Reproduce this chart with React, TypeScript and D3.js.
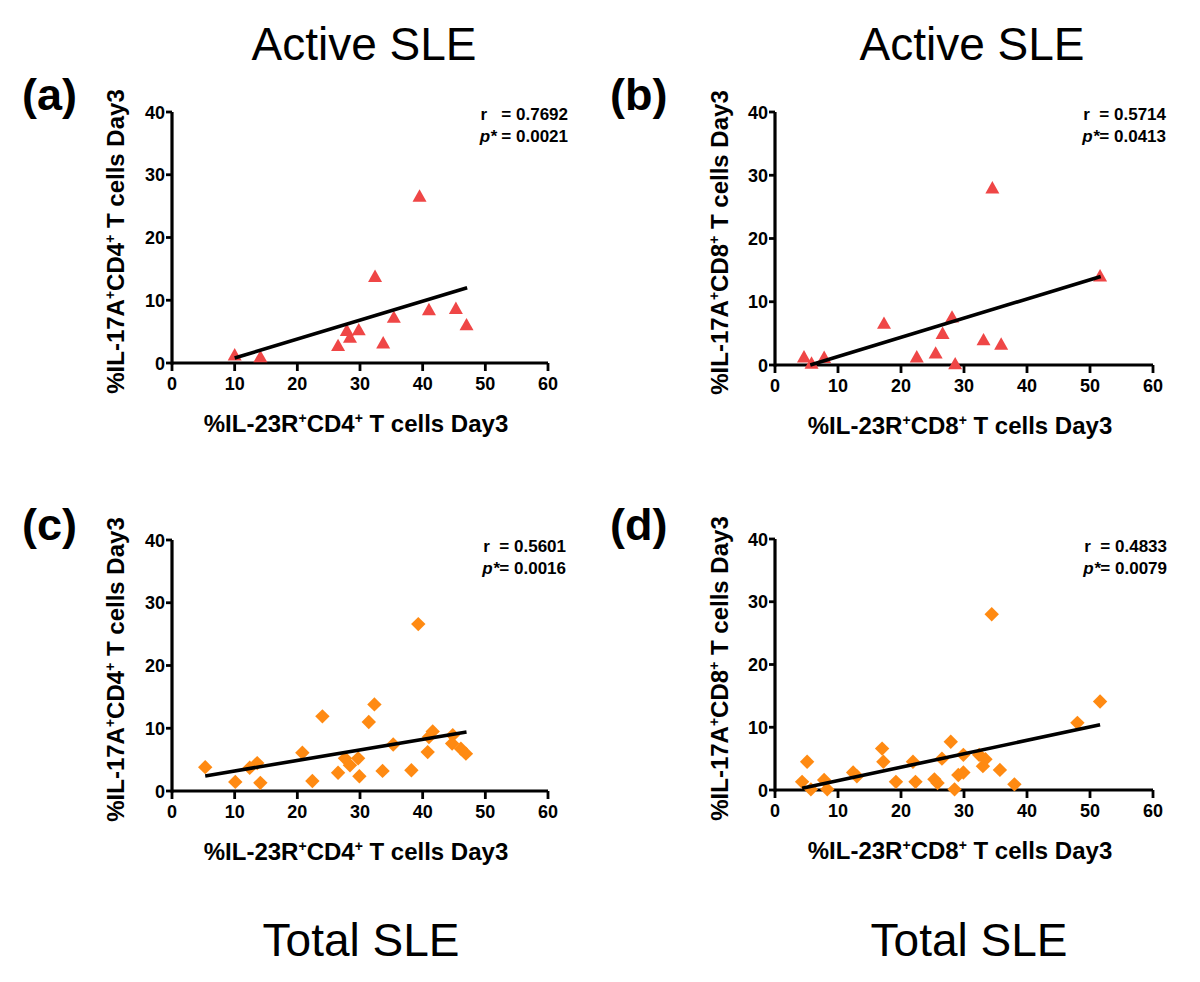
import React from "react";
import * as d3 from "d3";

// ---------- data ----------
const xTicks = [0, 10, 20, 30, 40, 50, 60];
const yTicks = [0, 10, 20, 30, 40];

// (a) Active SLE, CD4
const aX = [10.0, 14.1, 26.5, 27.9, 28.4, 29.8, 32.4, 33.7, 35.4, 39.5, 41.0, 45.3, 47.0];
const aY = [1.3, 1.0, 2.8, 5.2, 4.1, 5.3, 13.8, 3.2, 7.3, 26.6, 8.5, 8.7, 6.1];
const aFitX = [10.0, 47.1];
const aFitY = [0.8, 12.0];

// (b) Active SLE, CD8
const bX = [4.6, 5.8, 7.8, 17.3, 22.5, 25.5, 26.6, 28.1, 28.6, 33.1, 34.5, 35.9, 51.6];
const bY = [1.3, 0.3, 1.2, 6.6, 1.3, 1.9, 5.0, 7.6, 0.2, 4.0, 28.0, 3.3, 14.1];
const bFitX = [5.6, 51.7];
const bFitY = [0.0, 14.0];

// (c) Total SLE, CD4
const cX = [5.3, 10.1, 12.4, 13.6, 14.1, 20.8, 22.4, 24.0, 26.5, 27.6, 28.4, 29.7, 29.9, 31.4, 32.3, 33.6, 35.3, 38.2, 39.3, 40.8, 41.0, 41.6, 44.8, 44.7, 46.1, 46.9];
const cY = [3.8, 1.45, 3.7, 4.45, 1.3, 6.1, 1.6, 11.9, 2.9, 5.2, 4.1, 5.2, 2.35, 11.0, 13.8, 3.2, 7.4, 3.3, 26.6, 6.2, 8.6, 9.5, 8.9, 7.55, 6.75, 5.95];
const cFitX = [5.3, 47.0];
const cFitY = [2.4, 9.4];

// (d) Total SLE, CD8
const dX = [4.3, 5.1, 5.7, 7.8, 8.3, 12.4, 13.0, 17.0, 17.2, 19.2, 21.9, 22.3, 25.3, 25.8, 26.5, 27.9, 28.5, 29.1, 29.9, 29.9, 32.4, 33.0, 33.4, 34.4, 35.7, 38.0, 48.0, 51.6];
const dY = [1.3, 4.5, 0.1, 1.6, 0.1, 2.8, 2.2, 6.6, 4.5, 1.3, 4.5, 1.3, 1.7, 1.1, 5.0, 7.7, 0.1, 2.4, 2.8, 5.6, 5.6, 3.8, 4.9, 28.0, 3.2, 0.9, 10.7, 14.1];
const dFitX = [4.3, 51.6];
const dFitY = [0.27, 10.4];

const panelLetters = ["(a)", "(b)", "(c)", "(d)"];
const rTexts = ["r   = 0.7692", "r  = 0.5714", "r  = 0.5601", "r  = 0.4833"];
const pTexts = [" = 0.0021", "= 0.0413", "= 0.0016", "= 0.0079"];
const cellTypes = ["CD4", "CD8", "CD4", "CD8"];
const titles = ["Active SLE", "Total SLE"];

// ---------- style / layout ----------
const FONT = "'Liberation Sans', Arial, Helvetica, sans-serif";
const RED = "#EF4646";
const ORANGE = "#FF8A12";

type Panel = {
  left: number; right: number; top: number; bottom: number;
  xs: number[]; ys: number[]; fx: number[]; fy: number[];
  marker: "tri" | "dia"; letterX: number; letterY: number;
  rRight: number; rY: number; yLabelX: number;
};

const panels: Panel[] = [
  { left: 172, right: 548, top: 112, bottom: 363, xs: aX, ys: aY, fx: aFitX, fy: aFitY, marker: "tri", letterX: 22, letterY: 110, rRight: 568, rY: 120, yLabelX: 124 },
  { left: 775, right: 1153, top: 112, bottom: 365, xs: bX, ys: bY, fx: bFitX, fy: bFitY, marker: "tri", letterX: 610, letterY: 110, rRight: 1166, rY: 120, yLabelX: 728 },
  { left: 172, right: 548, top: 540, bottom: 791, xs: cX, ys: cY, fx: cFitX, fy: cFitY, marker: "dia", letterX: 22, letterY: 540, rRight: 566, rY: 552, yLabelX: 124 },
  { left: 775, right: 1153, top: 539, bottom: 790, xs: dX, ys: dY, fx: dFitX, fy: dFitY, marker: "dia", letterX: 610, letterY: 540, rRight: 1167, rY: 552, yLabelX: 728 },
];

const triPath = "M0,-6.8L7,5.6L-7,5.6Z";
const diaPath = "M0,-7.2L7.2,0L0,7.2L-7.2,0Z";

function PanelView({ p, i }: { p: Panel; i: number }) {
  const x = d3.scaleLinear().domain([0, 60]).range([p.left, p.right]);
  const y = d3.scaleLinear().domain([0, 40]).range([p.bottom, p.top]);
  const line = d3.line<number>().x((_, k) => x(p.fx[k])).y((_, k) => y(p.fy[k]));
  const cell = cellTypes[i];
  const cx = (p.left + p.right) / 2 - 4;
  const cy = (p.top + p.bottom) / 2 + 4;
  const labelSize = 24;
  return (
    <g>
      <text x={p.letterX} y={p.letterY} fontSize={45} fontWeight="bold" fontFamily={FONT}>
        {panelLetters[i]}
      </text>
      <line x1={x(0)} x2={x(60)} y1={y(0)} y2={y(0)} stroke="#000" strokeWidth={3.2} />
      <line x1={x(0)} x2={x(0)} y1={y(0) + 1.6} y2={y(40)} stroke="#000" strokeWidth={3.2} />
      {xTicks.map((t) => (
        <g key={"xt" + t}>
          <line x1={x(t)} x2={x(t)} y1={y(0)} y2={y(0) + 8} stroke="#000" strokeWidth={2.8} />
          <text x={x(t)} y={y(0) + 27} textAnchor="middle" fontSize={18} fontWeight="bold" fontFamily={FONT}>
            {t}
          </text>
        </g>
      ))}
      {yTicks.map((t) => (
        <g key={"yt" + t}>
          <line x1={x(0) - 6} x2={x(0)} y1={y(t)} y2={y(t)} stroke="#000" strokeWidth={2.8} />
          <text x={x(0) - 7} y={y(t) + 6.5} textAnchor="end" fontSize={18} fontWeight="bold" fontFamily={FONT}>
            {t}
          </text>
        </g>
      ))}
      {p.xs.map((v, k) => (
        <path
          key={"pt" + k}
          d={p.marker === "tri" ? triPath : diaPath}
          transform={`translate(${x(v)},${y(p.ys[k])})`}
          fill={p.marker === "tri" ? RED : ORANGE}
        />
      ))}
      <path d={line(p.fx) || ""} stroke="#000" strokeWidth={3.6} fill="none" />
      <text x={p.rRight} y={p.rY} textAnchor="end" fontSize={17} fontWeight="bold" fontFamily={FONT} style={{ whiteSpace: "pre" }}>
        {rTexts[i]}
      </text>
      <text x={p.rRight} y={p.rY + 22} textAnchor="end" fontSize={17} fontWeight="bold" fontFamily={FONT} style={{ whiteSpace: "pre" }}>
        <tspan fontStyle="italic">p*</tspan>
        <tspan>{pTexts[i]}</tspan>
      </text>
      <text x={cx} y={p.bottom + 69} textAnchor="middle" fontSize={labelSize} fontWeight="bold" fontFamily={FONT}>
        <tspan>%IL-23R</tspan>
        <tspan dy={-9} fontSize={14}>+</tspan>
        <tspan dy={9}>{cell}</tspan>
        <tspan dy={-9} fontSize={14}>+</tspan>
        <tspan dy={9}> T cells Day3</tspan>
      </text>
      <text
        transform={`translate(${p.yLabelX},${cy}) rotate(-90)`}
        textAnchor="middle"
        fontSize={labelSize}
        fontWeight="bold"
        fontFamily={FONT}
      >
        <tspan>%IL-17A</tspan>
        <tspan dy={-9} fontSize={14}>+</tspan>
        <tspan dy={9}>{cell}</tspan>
        <tspan dy={-9} fontSize={14}>+</tspan>
        <tspan dy={9}> T cells Day3</tspan>
      </text>
    </g>
  );
}

export default function App() {
  return (
    <svg
      width={1200}
      height={982}
      style={{ position: "absolute", left: 0, top: 0, background: "#fff" }}
    >
      <rect x={0} y={0} width={1200} height={982} fill="#fff" />
      <text x={364} y={60} textAnchor="middle" fontSize={46} fontFamily={FONT}>{titles[0]}</text>
      <text x={972} y={60} textAnchor="middle" fontSize={46} fontFamily={FONT}>{titles[0]}</text>
      <text x={361} y={956} textAnchor="middle" fontSize={46} fontFamily={FONT}>{titles[1]}</text>
      <text x={969} y={956} textAnchor="middle" fontSize={46} fontFamily={FONT}>{titles[1]}</text>
      {panels.map((p, i) => (
        <PanelView key={i} p={p} i={i} />
      ))}
    </svg>
  );
}
